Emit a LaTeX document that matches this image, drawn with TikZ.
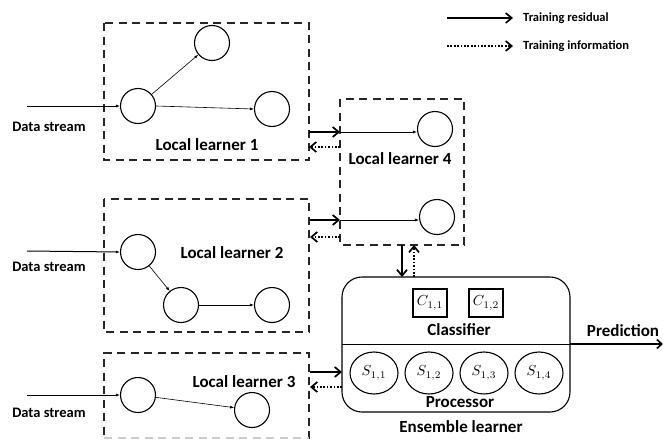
\documentclass[tikz,border=0pt]{standalone}
\usepackage{graphicx}
\usepackage{fontspec}
\setmainfont{Carlito}
\usetikzlibrary{arrows.meta,shapes.geometric}
\newcommand{\mylab}[1]{\scalebox{1.45}{$#1$}}
\begin{document}
\begin{tikzpicture}[x=1pt,y=-1pt,
  lbox/.style={draw=black!85, line width=1.6pt, dash pattern=on 8pt off 5.5pt},
  nd/.style={draw, circle, line width=1.1pt, minimum size=35pt, inner sep=0pt},
  sn/.style={draw, ellipse, line width=1.1pt, minimum width=48pt, minimum height=42pt, inner sep=0pt},
  cb/.style={draw, line width=1.1pt, minimum width=34pt, minimum height=28pt, inner sep=0pt},
  thin/.style={-{Latex[length=4pt,width=3pt]}, line width=0.6pt},
  big/.style={-{Straight Barb[length=6pt,width=10pt]}, line width=1.7pt},
  dot/.style={-{Straight Barb[length=6pt,width=10pt]}, line width=1.7pt, dash pattern=on 1.7pt off 1.7pt},
  lbl/.style={font=\bfseries\fontsize{17}{19}\selectfont, inner sep=0pt},
  ds/.style={font=\bfseries\fontsize{14.5}{16}\selectfont, inner sep=0pt},
  lg/.style={font=\bfseries\fontsize{12.5}{14}\selectfont, inner sep=0pt, anchor=west}
]
\useasboundingbox (0,0) rectangle (663,439);
% legend
\coordinate (la1) at (447,18); \coordinate (lb1) at (513,18);
\coordinate (la2) at (447,46); \coordinate (lb2) at (513,46);
\draw[big] (la1) -- (lb1);
\draw[dot] (la2) -- (lb2);
\node[lg] (lt1) at (523,18) {Training residual};
\node[lg] (lt2) at (523,46) {Training information};

% Local learner 1
\draw[lbox] (104,23) rectangle (309,160);
\node[nd] (a1) at (138,106) {};
\node[nd] (a2) at (212,43) {};
\node[nd] (a3) at (272,109) {};
\draw[thin] (a1) -- (a2);
\draw[thin] (a1.east) -- (a3.west);
\coordinate (d1) at (27,106);
\draw[thin, line width=1pt] (d1) -- (a1.west);
\node[ds] (dt1) at (49,127) {Data stream};
\node[lbl] (l1) at (207,145) {Local learner 1};

% Local learner 2
\draw[lbox] (104,199) rectangle (309,332);
\node[nd] (b1) at (138,252) {};
\node[nd] (b2) at (181,305) {};
\node[nd] (b3) at (272,305) {};
\draw[thin] (b1) -- (b2);
\draw[thin] (b2) -- (b3);
\coordinate (d2) at (27,251);
\draw[thin, line width=1pt] (d2) -- (b1.west);
\node[ds] (dt2) at (49,267) {Data stream};
\node[lbl] (l2) at (232,253) {Local learner 2};

% Local learner 3
\draw[lbox] (309,439) -- (309,353) -- (104,353) -- (104,439);
\draw[lbox, draw=black!20] (104,438) -- (309,438);
\node[nd] (c1) at (138,395) {};
\node[nd] (c2) at (252,410) {};
\draw[thin] (c1) -- (c2);
\coordinate (d3) at (27,395);
\draw[thin, line width=1pt] (d3) -- (c1.west);
\node[ds] (dt3) at (49,413) {Data stream};
\node[lbl] (l3) at (244,382) {Local learner 3};

% Local learner 4
\draw[lbox] (340,99) rectangle (464,245);
\node[nd] (e1) at (435,129) {};
\node[nd] (e2) at (437,217) {};
\coordinate (e1in) at (340,132);
\coordinate (e2in) at (340,220);
\draw[thin] (e1in) -- (e1.west |- e1in);
\draw[thin] (e2in) -- (e2.west |- e2in);
\node[lbl] (l4) at (400,159) {Local learner 4};

% connections 1,2 -> 4
\coordinate (p1s) at (309,132); \coordinate (p1e) at (340,132);
\coordinate (q1s) at (340,147); \coordinate (q1e) at (309,147);
\draw[big] (p1s) -- (p1e);
\draw[dot] (q1s) -- (q1e);
\coordinate (p2s) at (310,220); \coordinate (p2e) at (340,220);
\coordinate (q2s) at (340,237); \coordinate (q2e) at (310,237);
\draw[big] (p2s) -- (p2e);
\draw[dot] (q2s) -- (q2e);

% Ensemble learner
\draw[line width=1.1pt, rounded corners=20pt] (342,277) rectangle (570,412);
\coordinate (divl) at (342,344); \coordinate (divr) at (570,344);
\draw[line width=1pt] (divl) -- (divr);
\node[cb] (c11) at (430,303) {\mylab{C_{1,1}}};
\node[cb] (c12) at (486,303) {\mylab{C_{1,2}}};
\node[lbl] (cl) at (459,330) {Classifier};
\node[sn] (s1) at (374,373) {\mylab{S_{1,1}}};
\node[sn] (s2) at (429,373) {\mylab{S_{1,2}}};
\node[sn] (s3) at (484,373) {\mylab{S_{1,3}}};
\node[sn] (s4) at (539,373) {\mylab{S_{1,4}}};
\node[lbl] (pr) at (460,402) {Processor};
\node[lbl] (en) at (461,427) {Ensemble learner};
\coordinate (pe) at (663,344);
\draw[-{Straight Barb[length=5pt,width=9pt]}, line width=1.6pt] (divr) -- (pe);
\node[lbl] (pt) at (623,331) {Prediction};

% 3 -> ensemble
\coordinate (p3s) at (310,372); \coordinate (p3e) at (342,372);
\coordinate (q3s) at (342,387); \coordinate (q3e) at (310,387);
\draw[big] (p3s) -- (p3e);
\draw[dot] (q3s) -- (q3e);

% 4 <-> ensemble
\coordinate (v1s) at (402,245); \coordinate (v1e) at (402,277);
\coordinate (v2s) at (414,277); \coordinate (v2e) at (414,245);
\draw[big] (v1s) -- (v1e);
\draw[dot] (v2s) -- (v2e);
\end{tikzpicture}
\end{document}
